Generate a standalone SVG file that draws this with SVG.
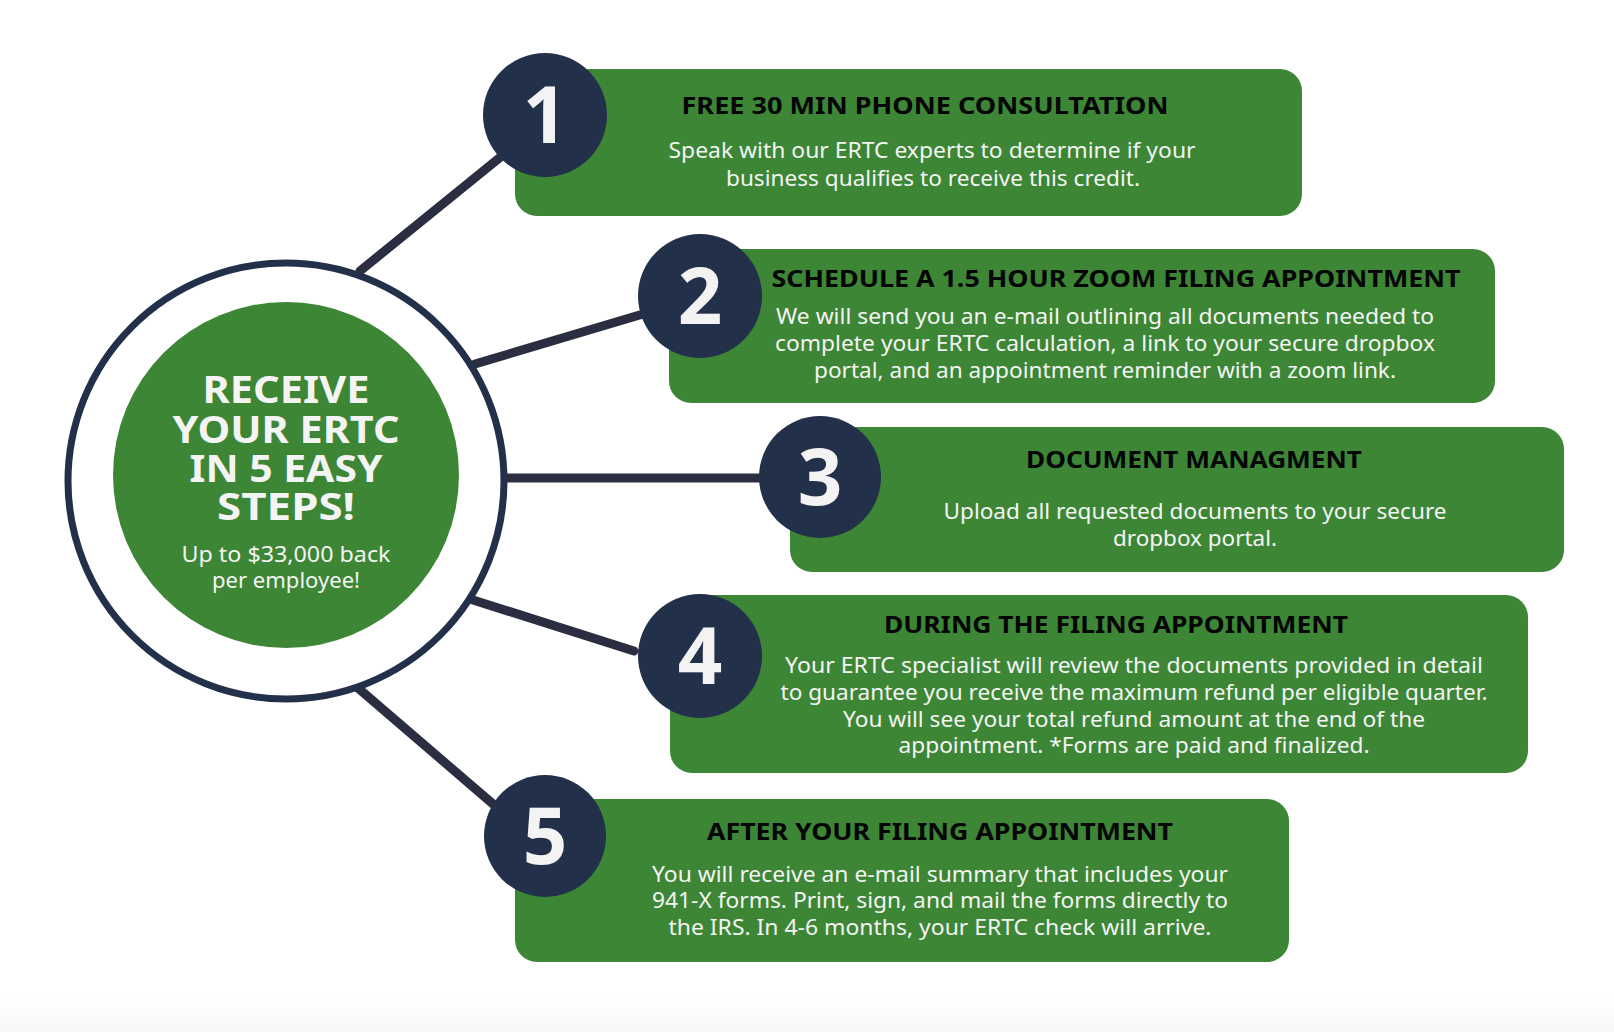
<svg xmlns="http://www.w3.org/2000/svg" width="1614" height="1032" viewBox="0 0 1614 1032">
  <defs>
    <linearGradient id="bottomFade" x1="0" y1="0" x2="0" y2="1">
      <stop offset="0" stop-color="#ffffff"/>
      <stop offset="1" stop-color="#f8f8f8"/>
    </linearGradient>
    <style>
      .box { fill: #3c8635; }
      .badge { fill: #22304a; }
      .conn { stroke: #2b2e40; stroke-width: 9; stroke-linecap: round; fill: none; }
      .num { font-family: "Noto Sans", "DejaVu Sans", sans-serif; font-weight: 700; font-size: 78px; fill: #f3f3f3; text-anchor: middle; }
      .head { font-family: "Noto Sans", "DejaVu Sans", sans-serif; font-weight: 700; font-size: 23px; fill: #050505; text-anchor: middle; }
      .body { font-family: "Noto Sans", "DejaVu Sans", sans-serif; font-size: 21px; fill: #f4f4f4; text-anchor: middle; }
      .title { font-family: "Noto Sans", "DejaVu Sans", sans-serif; font-weight: 700; font-size: 37px; fill: #f4f4f4; text-anchor: middle; }
      .sub { font-family: "Noto Sans", "DejaVu Sans", sans-serif; font-size: 21px; fill: #f4f4f4; text-anchor: middle; }
    </style>
  </defs>
  <rect x="0" y="0" width="1614" height="1032" fill="#ffffff"/>
  <rect x="0" y="995" width="1614" height="37" fill="url(#bottomFade)"/>

  <g id="connectors">
    <line class="conn" x1="360" y1="271" x2="503" y2="155"/>
    <line class="conn" x1="475" y1="364" x2="643" y2="314"/>
    <line class="conn" x1="500" y1="478" x2="762" y2="478"/>
    <line class="conn" x1="473" y1="600" x2="634" y2="651"/>
    <line class="conn" x1="358" y1="688" x2="493" y2="804"/>
  </g>

  <g id="center">
    <circle cx="286" cy="481" r="218" fill="#ffffff" stroke="#22304a" stroke-width="7"/>
    <circle cx="286" cy="475" r="173" fill="#3c8635"/>
    <text class="title" x="286" y="403" textLength="167" lengthAdjust="spacingAndGlyphs">RECEIVE</text>
    <text class="title" x="286" y="443" textLength="227" lengthAdjust="spacingAndGlyphs">YOUR ERTC</text>
    <text class="title" x="286" y="482" textLength="193" lengthAdjust="spacingAndGlyphs">IN 5 EASY</text>
    <text class="title" x="286" y="520" textLength="138" lengthAdjust="spacingAndGlyphs">STEPS!</text>
    <text class="sub" x="286" y="562" textLength="209" lengthAdjust="spacingAndGlyphs">Up to $33,000 back</text>
    <text class="sub" x="286" y="588" textLength="148" lengthAdjust="spacingAndGlyphs">per employee!</text>
  </g>

  <g id="step1">
    <rect class="box" x="515" y="69" width="787" height="147" rx="22"/>
    <circle class="badge" cx="545" cy="115" r="62"/>
    <text class="num" x="545" y="143">1</text>
    <text class="head" x="925" y="114" textLength="487" lengthAdjust="spacingAndGlyphs">FREE 30 MIN PHONE CONSULTATION</text>
    <text class="body" x="932" y="158" textLength="527" lengthAdjust="spacingAndGlyphs">Speak with our ERTC experts to determine if your</text>
    <text class="body" x="933" y="186" textLength="414" lengthAdjust="spacingAndGlyphs">business qualifies to receive this credit.</text>
  </g>

  <g id="step2">
    <rect class="box" x="669" y="249" width="826" height="154" rx="22"/>
    <circle class="badge" cx="700" cy="296" r="62"/>
    <text class="num" x="700" y="324">2</text>
    <text class="head" x="1116" y="287" textLength="689" lengthAdjust="spacingAndGlyphs">SCHEDULE A 1.5 HOUR ZOOM FILING APPOINTMENT</text>
    <text class="body" x="1105" y="324" textLength="658" lengthAdjust="spacingAndGlyphs">We will send you an e-mail outlining all documents needed to</text>
    <text class="body" x="1105" y="351" textLength="660" lengthAdjust="spacingAndGlyphs">complete your ERTC calculation, a link to your secure dropbox</text>
    <text class="body" x="1105" y="378" textLength="582" lengthAdjust="spacingAndGlyphs">portal, and an appointment reminder with a zoom link.</text>
  </g>

  <g id="step3">
    <rect class="box" x="790" y="427" width="774" height="145" rx="22"/>
    <circle class="badge" cx="820" cy="477" r="61"/>
    <text class="num" x="820" y="505">3</text>
    <text class="head" x="1194" y="468" textLength="336" lengthAdjust="spacingAndGlyphs">DOCUMENT MANAGMENT</text>
    <text class="body" x="1195" y="519" textLength="503" lengthAdjust="spacingAndGlyphs">Upload all requested documents to your secure</text>
    <text class="body" x="1195" y="546" textLength="164" lengthAdjust="spacingAndGlyphs">dropbox portal.</text>
  </g>

  <g id="step4">
    <rect class="box" x="670" y="595" width="858" height="178" rx="22"/>
    <circle class="badge" cx="700" cy="656" r="62"/>
    <text class="num" x="700" y="684">4</text>
    <text class="head" x="1116" y="633" textLength="464" lengthAdjust="spacingAndGlyphs">DURING THE FILING APPOINTMENT</text>
    <text class="body" x="1134" y="673" textLength="698" lengthAdjust="spacingAndGlyphs">Your ERTC specialist will review the documents provided in detail</text>
    <text class="body" x="1134" y="700" textLength="707" lengthAdjust="spacingAndGlyphs">to guarantee you receive the maximum refund per eligible quarter.</text>
    <text class="body" x="1134" y="727" textLength="582" lengthAdjust="spacingAndGlyphs">You will see your total refund amount at the end of the</text>
    <text class="body" x="1134" y="753" textLength="471" lengthAdjust="spacingAndGlyphs">appointment. *Forms are paid and finalized.</text>
  </g>

  <g id="step5">
    <rect class="box" x="515" y="799" width="774" height="163" rx="22"/>
    <circle class="badge" cx="545" cy="836" r="61"/>
    <text class="num" x="545" y="864">5</text>
    <text class="head" x="940" y="840" textLength="466" lengthAdjust="spacingAndGlyphs">AFTER YOUR FILING APPOINTMENT</text>
    <text class="body" x="940" y="882" textLength="576" lengthAdjust="spacingAndGlyphs">You will receive an e-mail summary that includes your</text>
    <text class="body" x="940" y="908" textLength="576" lengthAdjust="spacingAndGlyphs">941-X forms. Print, sign, and mail the forms directly to</text>
    <text class="body" x="940" y="935" textLength="543" lengthAdjust="spacingAndGlyphs">the IRS. In 4-6 months, your ERTC check will arrive.</text>
  </g>
</svg>
